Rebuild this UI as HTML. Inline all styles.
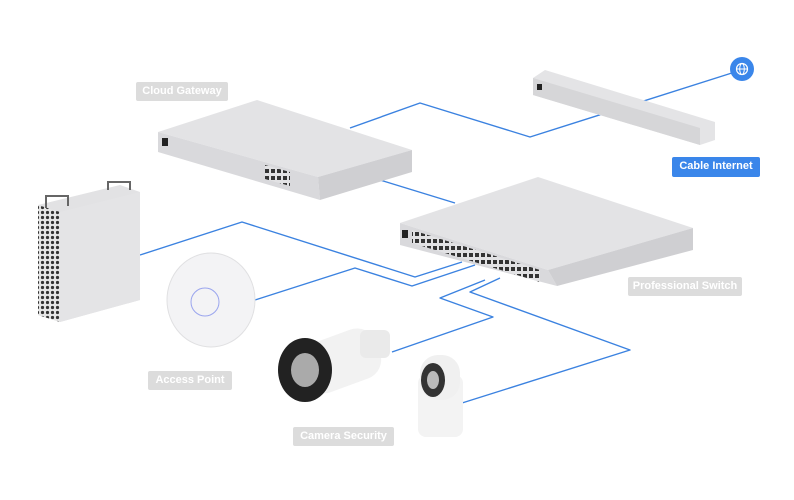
<!DOCTYPE html>
<html><head><style>
body{margin:0;background:#fff;width:794px;height:500px;overflow:hidden;font-family:"Liberation Sans",sans-serif}
.lbl{position:absolute;background:#dcdcdc;color:#fff;font-size:11px;font-weight:bold;text-align:center;line-height:19px;border-radius:2px}
</style></head><body>
<svg width="794" height="500" style="position:absolute;left:0;top:0">
<defs>
<pattern id="mesh" width="5" height="5" patternUnits="userSpaceOnUse"><rect width="5" height="5" fill="#e6e6e6"/><circle cx="2.5" cy="2.5" r="1.6" fill="#333"/></pattern>
<pattern id="ports" width="6" height="7" patternUnits="userSpaceOnUse"><rect width="6" height="7" fill="#e2e2e4"/><rect x="1" y="1" width="4" height="4" fill="#333"/></pattern>
</defs>
<g fill="none" stroke="#3b82e0" stroke-width="1.4" stroke-linejoin="round">
<polyline points="350,128 420,103 530,137 735,72"/>
<polyline points="380,180 455,203"/>
<polyline points="140,255 242,222 415,277 462,262"/>
<polyline points="255,300 355,268 412,286 475,265"/>
<polyline points="392,352 493,317 440,298 485,280"/>
<polyline points="462,403 630,350 470,292 500,278"/>
</g>
<!-- cable modem -->
<polygon points="533,78 545,70 715,122 715,140 700,145 533,95" fill="#e4e4e6"/>
<polygon points="533,78 700,128 700,145 533,95" fill="#d6d6d8"/>
<rect x="537" y="84" width="5" height="6" fill="#222"/>
<circle cx="742" cy="69" r="12" fill="#3a86ea"/>
<circle cx="742" cy="69" r="5.5" fill="none" stroke="#fff" stroke-width="1.2"/>
<line x1="736" y1="69" x2="748" y2="69" stroke="#fff" stroke-width="1"/>
<ellipse cx="742" cy="69" rx="2.3" ry="5.5" fill="none" stroke="#fff" stroke-width="1"/>
<!-- cloud gateway -->
<polygon points="158,132 257,100 412,150 318,177" fill="#e3e3e5"/>
<polygon points="158,132 318,177 320,200 158,152" fill="#d9d9dc"/>
<polygon points="318,177 412,150 412,172 320,200" fill="#cfcfd2"/>
<rect x="162" y="138" width="6" height="8" fill="#222"/>
<polygon points="265,165 290,172 290,186 265,179" fill="url(#ports)"/>
<!-- switch -->
<polygon points="400,223 538,177 693,228 548,270" fill="#e3e3e5"/>
<polygon points="400,223 548,270 557,286 400,245" fill="#d9d9dc"/>
<polygon points="548,270 693,228 693,250 557,286" fill="#cfcfd2"/>
<rect x="402" y="230" width="6" height="8" fill="#222"/>
<polygon points="412,230 540,270 540,282 412,243" fill="url(#ports)"/>
<!-- mac pro -->
<polygon points="38,205 120,185 140,192 140,300 60,322 38,315" fill="#e2e2e4"/>
<polygon points="38,205 60,212 60,322 38,315" fill="url(#mesh)"/>
<polygon points="60,212 140,192 140,300 60,322" fill="#e4e4e6"/>
<path d="M46,208 V196 H68 V206 M108,190 V182 H130 V190" fill="none" stroke="#666" stroke-width="2"/>
<!-- access point -->
<ellipse cx="211" cy="300" rx="44" ry="47" fill="#f3f3f5" stroke="#e0e0e2"/>
<circle cx="205" cy="302" r="14" fill="none" stroke="#9aa5ee" stroke-width="1"/>
<!-- bullet camera -->
<rect x="300" y="335" width="80" height="52" rx="20" fill="#f2f2f2" transform="rotate(-20 340 360)"/>
<ellipse cx="305" cy="370" rx="27" ry="32" fill="#222"/>
<ellipse cx="305" cy="370" rx="14" ry="17" fill="#aaa"/>
<rect x="360" y="330" width="30" height="28" rx="6" fill="#eaeaea"/>
<!-- dome cam -->
<rect x="418" y="375" width="45" height="62" rx="8" fill="#f3f3f3"/>
<rect x="420" y="355" width="40" height="45" rx="18" fill="#f0f0f0"/>
<ellipse cx="433" cy="380" rx="12" ry="17" fill="#333"/>
<ellipse cx="433" cy="380" rx="6" ry="9" fill="#bbb"/>
</svg>
<div class="lbl" style="left:136px;top:82px;width:92px">Cloud Gateway</div>
<div class="lbl" style="left:628px;top:277px;width:114px">Professional Switch</div>
<div class="lbl" style="left:148px;top:371px;width:84px">Access Point</div>
<div class="lbl" style="left:293px;top:427px;width:101px">Camera Security</div>
<div class="lbl" style="left:672px;top:157px;width:88px;background:#3a86ea;height:20px">Cable Internet</div>
</body></html>
